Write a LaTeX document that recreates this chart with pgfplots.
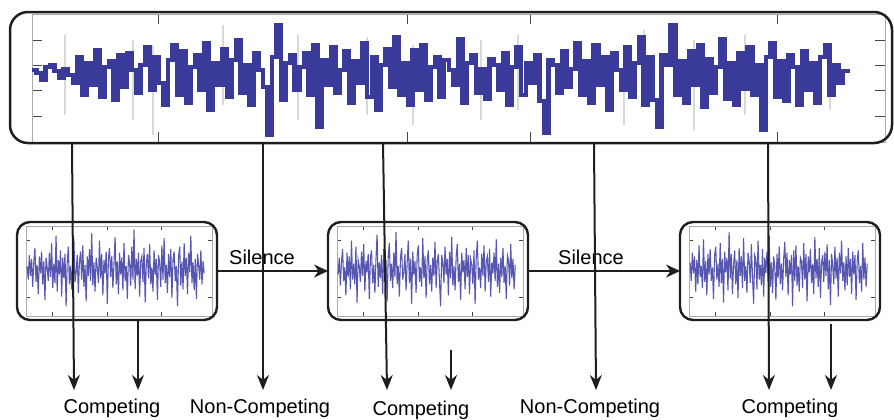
\documentclass[border=0pt]{standalone}
\usepackage{pgfplots}
\pgfplotsset{compat=1.18}
\usepackage{pgfplotstable}
\usepackage{fontspec}
\setmainfont{Liberation Sans}
\usetikzlibrary{arrows.meta}

\definecolor{sig}{RGB}{58,58,155}
\definecolor{sigthin}{RGB}{58,58,165}
\definecolor{boxline}{RGB}{30,30,30}

% long recording (sample-and-hold view)
\pgfplotstableread[header=false,row sep=\\]{
5\\2\\-5\\8\\10\\4\\-3\\6\\0\\-8\\
18\\-20\\12\\-10\\25\\-22\\8\\14\\-25\\20\\
-12\\22\\5\\-18\\10\\28\\-15\\18\\-8\\-30\\
15\\30\\-20\\24\\-28\\8\\20\\-15\\32\\-35\\
12\\-10\\26\\-22\\15\\35\\-18\\10\\-30\\22\\
5\\-12\\-60\\18\\50\\-25\\12\\20\\-15\\8\\
22\\-20\\30\\-52\\15\\-10\\28\\-18\\5\\24\\
-28\\14\\-8\\32\\-22\\18\\-35\\10\\26\\-12\\
38\\-20\\12\\-30\\25\\-15\\30\\-25\\8\\18\\
-22\\15\\5\\-10\\36\\-28\\12\\20\\-18\\6\\
-24\\16\\10\\-15\\22\\-30\\8\\28\\-20\\12\\
-8\\20\\-26\\-58\\15\\10\\-18\\24\\-12\\6\\
32\\-20\\14\\-28\\30\\-10\\18\\-35\\22\\5\\
-15\\28\\-22\\12\\38\\-30\\18\\-25\\-52\\20\\
10\\50\\-20\\14\\-28\\24\\-10\\30\\-32\\16\\
-18\\8\\36\\-24\\12\\-30\\22\\-14\\28\\-20\\
10\\-55\\18\\32\\-22\\14\\-26\\20\\8\\-30\\
24\\-15\\12\\-28\\18\\30\\-20\\10\\-8\\4\\
2\\
}\toprec

% first segment
\pgfplotstableread[header=false,row sep=\\]{
3\\-8\\12\\-5\\9\\-14\\6\\18\\-10\\4\\-20\\11\\-3\\15\\-12\\7\\-25\\10\\2\\-9\\
14\\-6\\22\\-15\\5\\-11\\28\\-18\\8\\-4\\16\\-22\\10\\-7\\13\\-30\\6\\19\\-12\\3\\
-16\\9\\25\\-10\\-2\\12\\-19\\7\\15\\-8\\20\\-14\\4\\-26\\11\\-5\\17\\-9\\30\\-13\\
6\\-18\\10\\2\\-11\\24\\-7\\13\\-21\\8\\-3\\15\\-28\\9\\18\\-6\\11\\-15\\5\\27\\
-12\\7\\-20\\14\\-4\\10\\-17\\22\\-9\\3\\-24\\12\\6\\-13\\19\\-8\\33\\-16\\9\\-5\\
14\\-22\\7\\11\\-10\\18\\-27\\5\\13\\-7\\21\\-12\\2\\-18\\16\\-4\\9\\-25\\12\\6\\
-14\\20\\-8\\26\\-11\\4\\-19\\13\\-6\\17\\-23\\8\\15\\-9\\3\\-30\\11\\19\\-13\\7\\
-16\\22\\-5\\10\\-20\\14\\-2\\28\\-11\\6\\-17\\9\\-24\\13\\4\\-8\\16\\-12\\7\\-3\\
}\segA

% second segment
\pgfplotstableread[header=false,row sep=\\]{
-4\\10\\-13\\6\\17\\-9\\2\\-21\\14\\-6\\11\\-16\\24\\-8\\5\\-12\\19\\-27\\8\\3\\
-10\\15\\-5\\21\\-18\\7\\-2\\13\\-24\\10\\16\\-11\\4\\-19\\9\\29\\-14\\6\\-7\\12\\
-20\\17\\-3\\8\\-26\\11\\22\\-9\\5\\-15\\14\\-6\\31\\-12\\3\\-22\\10\\18\\-8\\-2\\
13\\-17\\6\\24\\-11\\9\\-28\\15\\-4\\7\\-19\\12\\20\\-10\\2\\-14\\26\\-7\\11\\-23\\
8\\16\\-12\\4\\-18\\10\\-5\\23\\-15\\7\\13\\-9\\-30\\12\\6\\-11\\19\\-4\\9\\-21\\
15\\-7\\27\\-13\\3\\-17\\11\\21\\-10\\5\\-25\\14\\-2\\8\\-16\\18\\-6\\12\\-20\\9\\
4\\-12\\16\\-28\\10\\24\\-8\\2\\-15\\13\\-5\\20\\-18\\7\\11\\-10\\17\\-22\\6\\-3\\
14\\-9\\25\\-14\\5\\-19\\10\\-6\\18\\-11\\3\\-24\\12\\8\\-13\\21\\-7\\9\\-16\\4\\
}\segB

% third segment
\pgfplotstableread[header=false,row sep=\\]{
6\\-9\\14\\-3\\11\\-18\\8\\-12\\20\\-6\\3\\-15\\25\\-10\\7\\-21\\13\\-4\\17\\-9\\
2\\-24\\12\\19\\-8\\5\\-14\\22\\-11\\9\\-27\\15\\-2\\10\\-17\\31\\-7\\13\\-20\\4\\
16\\-12\\8\\-23\\18\\-5\\11\\-15\\26\\-9\\3\\-19\\14\\7\\-11\\21\\-6\\-28\\12\\9\\
-16\\24\\-8\\4\\-13\\17\\-22\\10\\-3\\15\\-10\\28\\-14\\6\\-19\\11\\2\\-25\\13\\-7\\
19\\-12\\5\\-17\\9\\23\\-6\\14\\-21\\8\\-4\\12\\-30\\16\\-9\\20\\-13\\3\\-18\\10\\
7\\-15\\22\\-8\\13\\-26\\11\\-2\\17\\-11\\5\\-20\\27\\-7\\9\\-14\\18\\-23\\6\\12\\
-10\\15\\-5\\21\\-16\\8\\-29\\13\\4\\-12\\19\\-7\\10\\-22\\14\\-3\\24\\-9\\6\\-17\\
11\\-13\\18\\-6\\9\\-20\\15\\-4\\12\\-25\\7\\16\\-11\\3\\-18\\22\\-8\\10\\-14\\5\\
}\segC

\pgfplotsset{
  sigaxis/.style={
    scale only axis, anchor=south west,
    axis line style={draw=gray!65, line width=0.4pt},
    tick style={draw=gray!55!black, line width=0.5pt},
    tick align=inside,
    xticklabels={}, yticklabels={},
  },
  segaxis/.style={
    sigaxis, width=93pt, height=45pt,
    xmin=-1, xmax=166, ymin=-38, ymax=36,
    xtick={23,72,121}, ytick={24,-23},
    major tick length=2pt,
  },
  segline/.style={sigthin, line width=0.55pt, opacity=0.85},
}

\begin{document}
\begin{tikzpicture}[x=0.5pt,y=0.5pt]
\useasboundingbox (0,0) rectangle (894,419);

% ---- long recording ----
\begin{axis}[sigaxis, at={(16pt,138.5pt)}, width=426.5pt, height=64pt,
  xmin=0, xmax=188.3, ymin=-67, ymax=61,
  xtick={28,83,110,164.5}, ytick={35,10,-15,-41},
  major tick length=5pt]
  \addplot[ycomb, gray!30, line width=1pt, no markers] coordinates {
    (7.3,40)(7.3,-40)(22.4,35)(22.4,-45)(26.7,30)(26.7,-60)(42.2,50)(42.2,-30)
    (58.7,40)(58.7,-45)(74,38)(74,-40)(84,30)(84,-50)(99.1,35)(99.1,-45)
    (107.3,40)(107.3,-35)(130.7,30)(130.7,-50)(135.1,45)(135.1,-30)
    (146.2,35)(146.2,-55)(157.3,40)(157.3,-40)(176.2,30)(176.2,-35)};
  \addplot[const plot, sig, line width=2.25pt, line join=miter, no markers]
    table[x expr=\coordindex, y index=0] {\toprec};
\end{axis}

% ---- segments ----
\begin{axis}[segaxis, at={(13pt,51.5pt)}]
  \addplot[segline, no markers] table[x expr=\coordindex, y index=0] {\segA};
\end{axis}
\begin{axis}[segaxis, at={(168.5pt,51.5pt)}]
  \addplot[segline, no markers] table[x expr=\coordindex, y index=0] {\segB};
\end{axis}
\begin{axis}[segaxis, at={(344.5pt,51.5pt)}]
  \addplot[segline, no markers] table[x expr=\coordindex, y index=0] {\segC};
\end{axis}

% ---- frames ----
\draw[boxline, line width=1.25pt, rounded corners=9pt] (10,276) rectangle (892,407);
\draw[boxline, line width=1.2pt, rounded corners=6.5pt] (17,99) rectangle (217,197);
\draw[boxline, line width=1.2pt, rounded corners=6.5pt] (328,99) rectangle (528,197);
\draw[boxline, line width=1.2pt, rounded corners=6.5pt] (680,99) rectangle (880,197);

% ---- silence transitions ----
\draw[boxline, line width=1pt, -{Stealth[length=7pt,width=6.5pt]}] (217,148) -- (328,148);
\draw[boxline, line width=1pt, -{Stealth[length=7pt,width=6.5pt]}] (528,148) -- (680,148);
\node[anchor=base, font=\fontsize{10}{12}\selectfont] at (262,155) {Silence};
\node[anchor=base, font=\fontsize{10}{12}\selectfont] at (591,155) {Silence};

% ---- mapping arrows ----
\tikzset{map/.style={boxline, line width=1pt, -{Stealth[length=7.5pt,width=6pt]}}}
\draw[map] (72,276) -- (74,29);
\draw[map] (263,276) -- (263,29);
\draw[map] (383,276) -- (387,29);
\draw[map] (594,276) -- (596,29);
\draw[map] (768,276) -- (769,29);
\draw[map] (138,99) -- (138,29);
\draw[map] (451,69) -- (451,29);
\draw[map] (831,95) -- (831,29);

% ---- labels ----
\begin{scope}[every node/.style={anchor=base, font=\fontsize{10}{12}\selectfont}]
\node at (112,6) {Competing};
\node at (260,6) {Non-Competing};
\node at (421,4) {Competing};
\node at (590,6) {Non-Competing};
\node at (790,6) {Competing};
\end{scope}
\end{tikzpicture}
\end{document}
